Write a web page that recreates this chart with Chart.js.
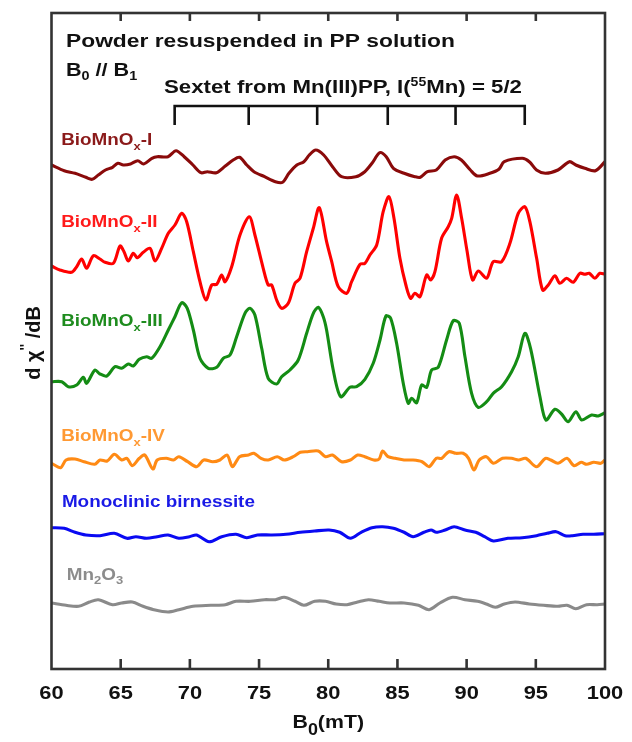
<!DOCTYPE html>
<html><head><meta charset="utf-8">
<script src="https://cdn.jsdelivr.net/npm/chart.js@4.4.1/dist/chart.umd.min.js"></script>
<style>html,body{margin:0;padding:0;background:#fff;}#wrap{width:632px;height:742px;}</style>
</head><body><div id="wrap"><canvas id="c" width="632" height="742"></canvas></div>
<script>
// ---- data (field in mT, signal in arbitrary units) ----
const fieldRange = [60, 100];
const fieldTicks = [60, 65, 70, 75, 80, 85, 90, 95, 100];
const sextetLines = [68.9, 74.25, 79.2, 84.3, 89.2, 94.2];
const seriesNames = ['BioMnOx-I', 'BioMnOx-II', 'BioMnOx-III', 'BioMnOx-IV', 'Monoclinic birnessite', 'Mn2O3'];
const seriesOffsets = [499, 399, 287, 207, 136, 65];

const traceI = [[60.0,5],[60.92,-0.7],[61.70,-3.3],[62.48,-7.3],[62.94,-9.3],[63.38,-5],[63.90,0],[64.41,2.7],[64.80,6.7],[65.19,5],[65.71,6],[66.23,9.3],[66.66,6],[67.26,11.7],[67.64,13.3],[68.42,13.3],[69.00,19.3],[69.59,13.3],[70.22,5],[70.80,-2.7],[71.26,-1.7],[71.91,-2.7],[72.56,4],[73.13,10],[73.59,12.7],[74.11,5],[74.63,-1.7],[75.40,-6.7],[76.18,-11.7],[76.70,-12.3],[77.16,-3.3],[77.73,5],[78.24,8.3],[78.63,15],[79.10,20],[79.67,15],[80.31,3.3],[80.96,-6.7],[81.99,-6.7],[82.64,-1.7],[83.16,6.7],[83.73,17.3],[84.19,13.3],[84.71,1.7],[85.48,-3.3],[86.26,-6.7],[86.65,-7.3],[87.17,-1.7],[87.81,0],[88.45,10],[89.10,13.3],[89.62,10],[90.27,0],[90.78,-6],[91.68,-3.3],[92.33,0.7],[92.72,8.3],[94.02,11.7],[94.53,8.3],[95.05,0],[95.69,-3.3],[96.60,0],[97.43,8.3],[97.89,5],[98.54,1.7],[99.31,-0.7],[100.0,8.3]];

const traceII = [[60.0,4],[60.61,0],[61.46,-2.3],[61.82,3.3],[62.18,11],[62.54,1.7],[63.02,14.3],[63.50,11],[63.87,7.7],[64.47,6.7],[64.95,24],[65.24,18.3],[65.55,9],[65.91,16.7],[66.20,12.3],[66.63,17.7],[67.12,21.7],[67.48,9],[67.96,21.7],[68.44,36.7],[68.92,45],[69.41,56.7],[69.77,48.3],[70.25,18.3],[70.73,-11.7],[71.16,-30],[71.58,-15],[71.94,-14.3],[72.30,-5],[72.54,-11.7],[73.02,3.3],[73.62,35],[74.29,53.3],[74.70,35],[75.30,1.7],[75.66,-15],[75.91,-15],[76.27,-30],[76.63,-38.3],[77.11,-33.3],[77.59,-13.3],[77.96,-8.3],[78.44,18.3],[78.92,41.7],[79.35,62.3],[79.88,28.3],[80.25,8.3],[80.72,-16.7],[81.33,-23.3],[81.69,-11.7],[82.29,5.7],[82.65,6.7],[83.01,15],[83.50,25],[83.97,58.3],[84.39,73.3],[84.75,51.7],[85.18,11.7],[85.61,-15],[85.95,-28.3],[86.26,-23.3],[86.63,-26.7],[87.11,-5],[87.40,-10],[87.71,-1.7],[88.19,31.7],[88.67,43.3],[88.92,51.7],[89.28,75],[89.64,51.7],[90.04,18.3],[90.43,-10],[90.84,-1],[91.45,-8.3],[91.92,8.3],[92.53,8.3],[93.13,26.7],[93.73,56.7],[94.21,63.3],[94.57,48.3],[95.06,11.7],[95.49,-20],[95.90,-15],[96.38,-5.7],[96.74,-13.3],[97.23,-8.3],[97.70,-12.3],[98.19,-3.3],[98.55,-4.3],[98.86,-3.3],[99.27,-8.3],[99.63,-3.3],[100.0,-4.3]];

const traceIII = [[60.0,0.3],[60.74,0.3],[61.21,-4.7],[61.82,-3],[62.30,4.7],[62.54,-1.3],[63.14,12],[63.50,8],[63.99,6],[64.59,15.3],[65.07,13.7],[65.55,18],[65.91,16],[66.34,22.7],[66.88,25.3],[67.24,23.7],[67.84,35.3],[68.44,52],[68.92,65.3],[69.41,79.3],[69.81,73.7],[70.25,52],[70.73,23.7],[71.33,13.7],[71.94,14.7],[72.41,23.7],[72.90,27],[73.38,45.3],[73.98,68.7],[74.34,73.7],[74.70,67],[75.19,33.7],[75.66,3.7],[76.27,-2],[76.63,5.3],[77.23,12],[77.83,22],[78.44,48.7],[78.92,68.7],[79.28,74.7],[79.64,65.3],[79.88,52],[80.36,12],[80.90,-14.7],[81.57,-5.3],[82.05,-4.7],[82.65,2.7],[83.25,18.7],[83.74,42],[84.17,66],[84.51,63.7],[84.94,38.7],[85.42,-1.3],[85.78,-21.3],[86.03,-16.3],[86.39,-20.7],[86.75,-3],[87.11,-5.3],[87.47,12],[87.95,14.7],[88.55,42],[89.03,61.3],[89.47,58.7],[89.88,25.3],[90.36,-11.3],[90.84,-25.3],[91.45,-19.7],[91.92,-11.3],[92.53,-4.7],[93.25,10.3],[93.73,25.3],[94.21,48.7],[94.62,33.7],[95.30,-14.7],[95.73,-38],[96.38,-27.3],[96.86,-32],[97.34,-39.7],[97.90,-29.7],[98.31,-38],[99.03,-33],[99.51,-34],[100.0,-30.7]];

const traceIV = [[60.0,-1.3],[60.66,-5.7],[61.05,2],[61.70,3],[62.35,0.3],[63.12,-2.3],[63.51,2],[64.02,1],[64.54,7.7],[65.07,2],[65.45,3.7],[65.84,-3.7],[66.35,3.7],[66.74,7],[67.33,-7],[67.64,2],[68.29,3.7],[68.81,2],[69.20,5.3],[69.84,0.3],[70.49,-4.7],[71.00,2],[71.65,0.3],[72.17,2],[72.69,7],[73.08,-4.7],[73.59,5.3],[74.24,7],[74.62,8.7],[75.14,3.7],[75.66,2],[76.31,5.3],[76.82,2],[77.47,5.3],[77.98,9.7],[78.50,10.3],[79.28,11],[79.80,5.3],[80.31,7],[80.96,0.3],[81.60,2],[82.12,7],[82.64,5.3],[83.29,2],[83.68,3],[83.93,11],[84.32,5.3],[84.84,3.7],[85.48,2],[86.13,2],[86.78,0.3],[87.29,-4.7],[87.81,3.7],[88.20,3.7],[88.71,10.3],[89.23,8.7],[89.75,8.7],[90.14,3.7],[90.53,-8],[90.91,2],[91.43,5.3],[91.94,-1.3],[92.59,3.7],[93.24,3.7],[93.76,2],[94.27,3.7],[95.05,-4.7],[95.69,3.7],[96.08,2],[96.60,-1.3],[97.25,3.7],[97.77,-3.7],[98.28,-0.3],[98.67,-2.3],[99.19,-0.3],[99.70,-1.3],[100.0,2]];

const traceBirnessite = [[60.0,5.3],[60.92,4.7],[61.70,0.7],[62.48,-2],[63.51,-2.7],[64.54,-0.3],[65.45,-5.3],[66.10,-3.7],[66.87,-5.3],[67.64,-3.7],[68.42,-2],[69.20,-5.3],[69.97,-3.7],[70.49,-2],[71.39,-8.7],[72.30,-3.7],[73.33,-1.3],[74.11,-4.7],[74.88,-2],[75.92,-2],[76.95,-1.3],[77.98,0.7],[79.02,2],[80.06,3],[80.83,0.7],[81.60,-5.3],[82.38,0.7],[83.16,5.3],[83.93,6.3],[84.71,4.7],[85.48,0.7],[86.13,-3.7],[86.91,0.7],[87.43,3],[87.81,0.7],[88.45,3],[89.10,6.3],[89.88,3],[90.66,0.7],[91.30,-3.7],[91.94,-8],[92.98,-5.3],[94.02,-4.7],[95.05,-2.7],[95.82,-0.3],[96.47,1.3],[97.12,-2.7],[97.64,-2.7],[98.41,-1.3],[99.19,-1.3],[100.0,-0.7]];

const traceMn2O3 = [[60.0,1],[61.05,-1.3],[61.96,-2.3],[62.74,2],[63.38,4.3],[64.41,-0.7],[65.07,1],[65.84,2],[66.61,-2.3],[67.39,-5.7],[68.42,-8],[69.20,-5.7],[70.23,-2.3],[71.52,-1.3],[72.56,-0.7],[73.33,2.7],[74.37,2.7],[75.40,4.3],[76.18,4.3],[76.82,6.7],[77.60,2.7],[78.24,-1.3],[79.02,2.7],[79.80,2.7],[80.57,0],[81.35,-0.7],[82.12,2],[82.90,4.3],[83.68,2.7],[84.45,1],[85.48,1],[86.52,-1.3],[87.29,-5.7],[88.07,1],[88.97,6.7],[89.88,4.3],[90.78,2.7],[91.43,0],[92.07,-3.3],[92.72,0],[93.50,2],[94.53,0],[95.56,-1.3],[96.60,-2.3],[97.25,-1.3],[97.89,-4.7],[98.67,-0.7],[99.44,-0.7],[100.0,0]];

const traces = [traceI, traceII, traceIII, traceIV, traceBirnessite, traceMn2O3];
const lineColors = ['#8A0A0A', '#FF0000', '#148C14', '#FF8A14', '#0A0AF2', '#8A8A8A'];
const labelColors = ['#8B1A1A', '#FF1A1A', '#1E8C1E', '#FF9933', '#1A1AE6', '#8C8C8C'];

// ---- text helpers ----
const FONT = '"Liberation Sans", Arial, Helvetica, sans-serif';
function rich(ctx, x, y, segs, color, align, sx) {
  ctx.save();
  ctx.fillStyle = color;
  ctx.textBaseline = 'alphabetic';
  ctx.textAlign = 'left';
  let w = 0;
  for (const s of segs) { ctx.font = 'bold ' + s.size + 'px ' + FONT; w += ctx.measureText(s.t).width; }
  let x0 = x;
  if (align === 'center') x0 = x - w * sx / 2;
  ctx.translate(x0, y);
  ctx.scale(sx, 1);
  let cx = 0;
  for (const s of segs) {
    ctx.font = 'bold ' + s.size + 'px ' + FONT;
    ctx.fillText(s.t, cx, s.dy || 0);
    cx += ctx.measureText(s.t).width;
  }
  ctx.restore();
}

const seriesLabelSegs = [
  [{t:'BioMnO',size:16},{t:'x',size:11,dy:5},{t:'-I',size:16}],
  [{t:'BioMnO',size:16},{t:'x',size:11,dy:5},{t:'-II',size:16}],
  [{t:'BioMnO',size:16},{t:'x',size:11,dy:5},{t:'-III',size:16}],
  [{t:'BioMnO',size:16},{t:'x',size:11,dy:5},{t:'-IV',size:16}],
  [{t:'Monoclinic birnessite',size:16}],
  [{t:'Mn',size:16},{t:'2',size:11,dy:4},{t:'O',size:16},{t:'3',size:11,dy:4}]
];
// label anchors: [field (mT), signal level]
const seriesLabelPos = [[60.7, 524], [60.7, 442], [60.7, 343], [60.7, 228], [60.75, 162], [61.1, 89]];

const decor = {
  id: 'decor',
  afterDatasetsDraw(chart) {
    const ctx = chart.ctx;
    const xs = chart.scales.x, ys = chart.scales.y;
    const a = chart.chartArea;
    ctx.save();
    ctx.strokeStyle = '#333333';
    ctx.lineWidth = 2.6;
    ctx.strokeRect(a.left, a.top, a.right - a.left, a.bottom - a.top);
    ctx.beginPath();
    for (const t of fieldTicks) {
      if (t === fieldRange[0] || t === fieldRange[1]) continue;
      const px = xs.getPixelForValue(t);
      ctx.moveTo(px, a.bottom); ctx.lineTo(px, a.bottom - 10);
      ctx.moveTo(px, a.top); ctx.lineTo(px, a.top + 8);
    }
    ctx.stroke();
    for (const t of fieldTicks) {
      rich(ctx, xs.getPixelForValue(t), a.bottom + 30, [{t:String(t), size:19}], '#111111', 'center', 1.15);
    }
    rich(ctx, (a.left + a.right) / 2, a.bottom + 59, [{t:'B',size:19},{t:'0',size:16,dy:7},{t:'(mT)',size:19}], '#111111', 'center', 1.12);
    ctx.save();
    ctx.translate(40, (a.top + a.bottom) / 2 + 2);
    ctx.rotate(-Math.PI / 2);
    rich(ctx, 0, 0, [{t:'d ',size:20},{t:'\u03C7',size:20},{t:"''",size:14,dy:-10},{t:' /dB',size:20}], '#111111', 'center', 1.0);
    ctx.restore();
    rich(ctx, 66, ys.getPixelForValue(622), [{t:'Powder resuspended in PP solution',size:19}], '#111111', 'left', 1.2);
    rich(ctx, 66, ys.getPixelForValue(593), [{t:'B',size:18},{t:'0',size:12,dy:4},{t:' // B',size:18},{t:'1',size:12,dy:4}], '#111111', 'left', 1.2);
    rich(ctx, 164, ys.getPixelForValue(576), [{t:'Sextet from Mn(III)PP, I(',size:19},{t:'55',size:12,dy:-7},{t:'Mn) = 5/2',size:19}], '#111111', 'left', 1.17);
    ctx.strokeStyle = '#111111';
    ctx.lineWidth = 2.6;
    ctx.lineCap = 'butt';
    const yTop = ys.getPixelForValue(563), yBot = ys.getPixelForValue(544);
    ctx.beginPath();
    ctx.moveTo(xs.getPixelForValue(sextetLines[0]) - 1.3, yTop);
    ctx.lineTo(xs.getPixelForValue(sextetLines[sextetLines.length - 1]) + 1.3, yTop);
    for (const s of sextetLines) {
      const px = xs.getPixelForValue(s);
      ctx.moveTo(px, yTop); ctx.lineTo(px, yBot);
    }
    ctx.stroke();
    seriesLabelSegs.forEach((segs, i) => {
      const p = seriesLabelPos[i];
      rich(ctx, xs.getPixelForValue(p[0]), ys.getPixelForValue(p[1]), segs, labelColors[i], 'left', 1.18);
    });
    ctx.restore();
  }
};

const datasets = traces.map((tr, i) => ({
  label: seriesNames[i],
  data: tr.map(p => ({x: p[0], y: p[1] + seriesOffsets[i]})),
  borderColor: lineColors[i],
  borderWidth: 3.1,
  pointRadius: 0,
  tension: 0.3,
  fill: false,
  borderJoinStyle: 'round',
  borderCapStyle: 'round'
}));

new Chart(document.getElementById('c'), {
  type: 'line',
  data: { datasets },
  options: {
    responsive: false,
    animation: false,
    devicePixelRatio: 1,
    layout: { padding: { left: 51.5, right: 27, top: 13, bottom: 73 } },
    scales: {
      x: { type: 'linear', min: fieldRange[0], max: fieldRange[1], display: false },
      y: { min: 0, max: 656, display: false }
    },
    plugins: { legend: { display: false }, tooltip: { enabled: false } }
  },
  plugins: [decor]
});
</script>
</body></html>
